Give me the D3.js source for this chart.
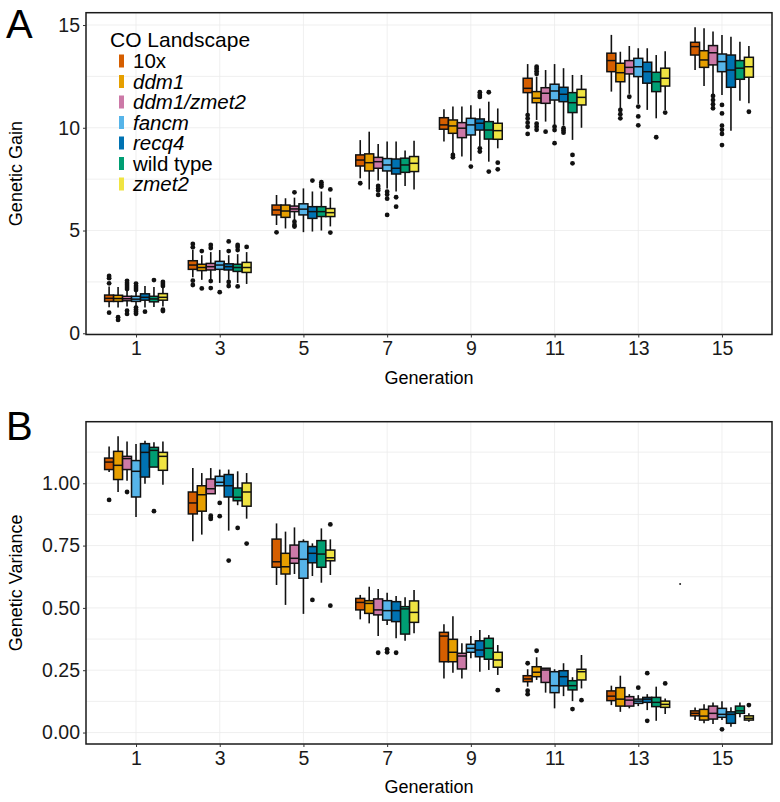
<!DOCTYPE html>
<html><head>
<meta charset="utf-8">
<script src="https://d3js.org/d3.v7.min.js"></script>
<style>
  body { margin: 0; background: #fff; }
  text { font-family: "Liberation Sans", Arial, sans-serif; }
  .grid line { stroke: #ebebeb; stroke-width: 0.8px; }
</style>
</head>
<body>
<svg id="chart" width="780" height="802"></svg>
<script>
// ---- data ----
const generations = [1, 3, 5, 7, 9, 11, 13, 15];
const groups = ["10x", "ddm1", "ddm1/zmet2", "fancm", "recq4", "wild type", "zmet2"];
const groupItalic = [false, true, true, true, true, false, true];
const groupColors = ["#D55E00", "#E69F00", "#CC79A7", "#56B4E9", "#0072B2", "#009E73", "#F0E442"];

// Genetic gain: [lower whisker, q1, median, q3, upper whisker] per generation
const gain10x   = [[1.27,1.55,1.70,1.86,2.27],[2.72,3.11,3.32,3.53,4.05],[5.27,5.76,6.00,6.24,6.73],[7.54,8.14,8.43,8.68,9.40],[9.33,9.93,10.14,10.49,10.90],[10.70,11.71,11.92,12.41,13.10],[11.76,12.73,13.27,13.63,14.52],[12.81,13.54,13.95,14.16,14.89]];
const gainDdm1  = [[1.25,1.55,1.69,1.85,2.25],[2.60,3.05,3.20,3.36,3.80],[5.10,5.64,5.95,6.24,6.57],[7.00,7.90,8.30,8.73,9.81],[8.76,9.73,10.09,10.38,11.03],[10.38,11.22,11.44,11.76,12.49],[10.95,12.24,12.68,13.14,13.70],[12.03,12.94,13.30,13.75,14.84]];
const gainDdm1Zmet2 = [[1.30,1.58,1.68,1.80,2.10],[2.60,3.08,3.24,3.40,3.95],[5.50,5.92,6.05,6.19,6.60],[7.43,8.03,8.35,8.56,9.21],[8.60,9.52,9.98,10.25,11.03],[10.30,11.19,11.68,11.95,12.81],[11.65,12.62,12.94,13.27,13.98],[11.60,13.06,13.65,14.00,14.68]];
const gainFancm = [[1.30,1.55,1.66,1.80,2.05],[2.45,3.11,3.32,3.50,4.05],[4.92,5.76,6.04,6.30,7.05],[7.05,7.90,8.19,8.50,9.33],[8.40,9.65,10.14,10.46,11.10],[10.14,11.35,11.79,12.12,13.10],[11.16,12.49,12.97,13.38,13.87],[11.60,12.73,13.22,13.59,14.52]];
const gainRecq4 = [[1.25,1.61,1.75,1.92,2.30],[2.60,3.08,3.24,3.38,3.80],[4.95,5.59,5.92,6.16,6.90],[6.90,7.75,8.03,8.48,9.33],[9.10,9.89,10.22,10.43,10.94],[10.10,11.27,11.63,11.97,12.90],[10.87,12.17,12.73,13.19,13.87],[9.86,11.97,12.81,13.54,14.43]];
const gainWild  = [[1.28,1.53,1.67,1.80,2.25],[2.45,3.01,3.20,3.36,3.85],[5.00,5.68,5.92,6.16,6.90],[7.17,7.83,8.19,8.52,8.89],[8.35,9.45,9.89,10.30,11.27],[9.41,10.74,11.22,11.71,12.57],[10.46,11.76,12.24,12.70,13.54],[11.32,12.36,12.90,13.27,14.19]];
const gainZmet2 = [[1.30,1.61,1.75,1.93,2.20],[2.40,2.96,3.20,3.45,3.95],[5.20,5.68,5.87,6.07,6.60],[7.00,7.87,8.27,8.60,9.37],[9.00,9.44,9.86,10.22,10.94],[10.00,11.11,11.48,11.87,12.57],[10.87,12.03,12.41,12.90,13.73],[11.19,12.46,12.97,13.43,13.98]];

const gain10xOut   = [[2.43,2.68,2.79,1.00],[4.18,4.35,2.56,2.35],[4.91],[7.30],[],[10.62,10.45,10.25,10.05,9.70],[],[]];
const gainDdm1Out  = [[0.78,0.65],[4.00,2.18],[],[],[8.68,8.56],[12.62,12.75,12.87,12.97,10.20,10.05,9.90],[10.87,10.66,10.46],[]];
const gainDdm1Zmet2Out = [[2.15,2.25,2.35,2.45,2.55,1.10,0.94],[4.15,4.30,2.54,2.20],[6.86,5.43,5.27,5.19],[7.17,7.05,6.95,6.73],[],[9.81],[11.51],[11.55,11.35,11.15,10.95]];
const gainFancmOut = [[2.10,2.20,2.30,2.42,1.25,1.15,1.05,0.95],[2.00],[],[6.89,6.75,6.55,5.76],[8.11],[10.05,9.89,9.25],[11.03,10.55,10.12],[11.11,10.70,10.10,9.90,9.70,9.16]];
const gainRecq4Out = [[1.05],[4.00,4.47,2.50,2.30],[7.43],[6.62,6.16],[11.50,11.60,11.73,9.00,8.84],[9.98,9.87,9.76],[],[]];
const gainWildOut  = [[2.59],[4.05,4.20,4.30,2.28],[7.14,7.24,7.35],[],[11.73,7.87],[8.68,8.27],[9.54],[]];
const gainZmet2Out = [[2.30,2.40,2.50,1.15,1.08],[4.20],[7.00,4.90],[],[8.30,7.98],[],[10.74],[10.78]];

// Genetic variance
const var10x   = [[1.045,1.055,1.085,1.101,1.148],[0.767,0.877,0.921,0.965,1.061],[0.592,0.663,0.685,0.776,0.839],[0.454,0.492,0.522,0.538,0.552],[0.217,0.284,0.387,0.402,0.434],[0.184,0.204,0.215,0.228,0.254],[0.110,0.128,0.146,0.167,0.188],[0.050,0.067,0.077,0.087,0.100]];
const varDdm1  = [[0.965,1.015,1.072,1.128,1.189],[0.794,0.888,0.954,0.990,1.041],[0.512,0.636,0.665,0.719,0.806],[0.438,0.478,0.518,0.529,0.585],[0.240,0.284,0.322,0.374,0.467],[0.211,0.224,0.242,0.264,0.302],[0.083,0.106,0.134,0.180,0.228],[0.037,0.050,0.066,0.093,0.113]];
const varDdm1Zmet2 = [[1.010,1.055,1.099,1.108,1.168],[0.958,0.958,0.978,1.017,1.061],[0.636,0.679,0.699,0.752,0.823],[0.387,0.472,0.492,0.536,0.576],[0.217,0.255,0.307,0.318,0.358],[0.160,0.201,0.251,0.258,0.258],[0.097,0.106,0.130,0.144,0.154],[0.034,0.054,0.077,0.106,0.120]];
const varFancm = [[0.865,0.945,1.048,1.091,1.158],[0.990,0.990,1.004,1.028,1.055],[0.476,0.619,0.695,0.766,0.775],[0.431,0.451,0.489,0.529,0.561],[0.298,0.322,0.338,0.354,0.387],[0.097,0.160,0.188,0.244,0.254],[0.106,0.117,0.126,0.134,0.150],[0.050,0.061,0.073,0.097,0.126]];
const varRecq4 = [[0.998,1.025,1.124,1.159,1.171],[0.810,0.945,0.990,1.035,1.055],[0.628,0.681,0.719,0.746,0.759],[0.378,0.445,0.489,0.525,0.548],[0.244,0.304,0.331,0.368,0.411],[0.146,0.187,0.224,0.248,0.278],[0.090,0.121,0.134,0.141,0.154],[0.023,0.037,0.073,0.083,0.101]];
const varWild  = [[1.065,1.065,1.132,1.144,1.165],[0.912,0.930,0.944,0.981,1.048],[0.601,0.663,0.716,0.770,0.819],[0.368,0.395,0.496,0.505,0.543],[0.251,0.294,0.338,0.378,0.391],[0.126,0.171,0.188,0.208,0.222],[0.047,0.104,0.121,0.141,0.184],[0.061,0.077,0.087,0.106,0.120]];
const varZmet2 = [[0.994,1.052,1.108,1.124,1.168],[0.858,0.908,0.965,1.001,1.041],[0.632,0.689,0.701,0.732,0.775],[0.398,0.442,0.482,0.528,0.572],[0.231,0.262,0.291,0.322,0.351],[0.177,0.211,0.244,0.254,0.311],[0.074,0.101,0.113,0.126,0.137],[0.043,0.050,0.057,0.067,0.077]];

const var10xOut   = [[0.933],[],[],[],[],[0.278,0.168,0.154],[],[]];
const varDdm1Out  = [[],[],[],[],[],[0.328],[],[]];
const varDdm1Zmet2Out = [[0.965],[0.870,0.862,0.857],[],[0.320],[],[],[],[]];
const varFancmOut = [[],[0.921,0.868],[],[0.334,0.322],[],[],[0.180],[0.013]];
const varRecq4Out = [[],[0.690],[0.532],[0.320],[],[],[0.238,0.047],[]];
const varWildOut  = [[0.888],[0.821],[],[],[],[0.094],[],[]];
const varZmet2Out = [[],[0.758],[0.835,0.509],[],[0.170],[0.130],[0.197],[0.110]];
const varStray = [[14, 0.596]];

const gainTicks = [0, 5, 10, 15];
const varTicks = [0, 0.25, 0.5, 0.75, 1.0];

// ---- layout ----
const svg = d3.select("#chart");
const left = 86, right = 772;
const x = d3.scaleLinear().domain([-0.195, 16.195]).range([left, right]);
const dodge = 1.5 / groups.length;  // in generation units

const fmtVar = d3.format(".2f");

function drawPanel(cfg) {
  const y = cfg.y;
  const top = y.range()[1], bottom = y.range()[0];
  const g = svg.append("g");

  // grid
  const grid = g.append("g").attr("class", "grid");
  grid.selectAll("line.h").data(cfg.gridY).join("line")
      .attr("x1", left).attr("x2", right)
      .attr("y1", d => y(d)).attr("y2", d => y(d));
  grid.selectAll("line.v").data(generations).join("line")
      .attr("x1", d => x(d)).attr("x2", d => x(d))
      .attr("y1", top).attr("y2", bottom);

  // boxes
  const boxW = x(dodge) - x(0);
  const stats = cfg.stats, outs = cfg.outs;
  groups.forEach((grp, k) => {
    const layer = g.append("g");
    const rows = generations.map((gen, i) => ({gen: gen, s: stats[k][i], o: outs[k][i],
                                               cx: x(gen + (k - 3) * dodge)}));
    layer.selectAll("line.w").data(rows).join("line")
        .attr("x1", d => d.cx).attr("x2", d => d.cx)
        .attr("y1", d => y(d.s[0])).attr("y2", d => y(d.s[4]))
        .attr("stroke", "#111").attr("stroke-width", 1.6);
    layer.selectAll("rect").data(rows).join("rect")
        .attr("x", d => d.cx - boxW / 2).attr("width", boxW)
        .attr("y", d => y(d.s[3])).attr("height", d => Math.max(1, y(d.s[1]) - y(d.s[3])))
        .attr("fill", groupColors[k]).attr("stroke", "#111").attr("stroke-width", 1.5);
    layer.selectAll("line.m").data(rows).join("line")
        .attr("x1", d => d.cx - boxW / 2).attr("x2", d => d.cx + boxW / 2)
        .attr("y1", d => y(d.s[2])).attr("y2", d => y(d.s[2]))
        .attr("stroke", "#111").attr("stroke-width", 1.5);
    const pts = rows.flatMap(d => d.o.map(v => ({cx: d.cx, v: v})));
    layer.selectAll("circle").data(pts).join("circle")
        .attr("cx", d => d.cx).attr("cy", d => y(d.v)).attr("r", 2.4)
        .attr("fill", "#111");
  });

  if (cfg.stray) {
    g.selectAll("circle.stray").data(cfg.stray).join("circle")
        .attr("cx", d => x(d[0])).attr("cy", d => y(d[1])).attr("r", 1)
        .attr("fill", "#222");
  }

  // frame
  g.append("rect").attr("x", left).attr("y", top)
      .attr("width", right - left).attr("height", bottom - top)
      .attr("fill", "none").attr("stroke", "#1a1a1a").attr("stroke-width", 1.5);

  // y axis
  const ya = g.append("g").attr("transform", `translate(${left},0)`)
      .call(d3.axisLeft(y).tickValues(cfg.ticks).tickFormat(cfg.fmt).tickSize(3).tickPadding(3));
  ya.select(".domain").remove();
  ya.selectAll(".tick line").attr("stroke", "#333");
  ya.selectAll(".tick text").attr("font-size", 19.5).attr("fill", "#1a1a1a")
      .attr("font-family", "'Liberation Sans', Arial, sans-serif");

  // x axis
  const xa = g.append("g").attr("transform", `translate(0,${bottom})`)
      .call(d3.axisBottom(x).tickValues(generations).tickSize(3).tickPadding(4));
  xa.select(".domain").remove();
  xa.selectAll(".tick line").attr("stroke", "#333");
  xa.selectAll(".tick text").attr("font-size", 19.5).attr("fill", "#1a1a1a")
      .attr("font-family", "'Liberation Sans', Arial, sans-serif");

  g.append("text").attr("x", (left + right) / 2).attr("y", bottom + 49)
      .attr("text-anchor", "middle").attr("font-size", 18).text("Generation");
  g.append("text").attr("transform", `translate(22,${(top + bottom) / 2}) rotate(-90)`)
      .attr("text-anchor", "middle").attr("font-size", 18).text(cfg.yTitle);
  g.append("text").attr("x", 6).attr("y", cfg.letterY)
      .attr("font-size", 40).text(cfg.letter);
}

const yA = d3.scaleLinear().domain([-0.06, 15.6]).range([334.5, 12.7]);
drawPanel({
  y: yA, ticks: gainTicks, fmt: d3.format("d"), gridY: d3.range(0, 15.01, 2.5),
  stats: [gain10x, gainDdm1, gainDdm1Zmet2, gainFancm, gainRecq4, gainWild, gainZmet2],
  outs: [gain10xOut, gainDdm1Out, gainDdm1Zmet2Out, gainFancmOut, gainRecq4Out, gainWildOut, gainZmet2Out],
  yTitle: "Genetic Gain", letter: "A", letterY: 38
});

const yB = d3.scaleLinear().domain([-0.046, 1.247]).range([744, 421.7]);
drawPanel({
  y: yB, ticks: varTicks, fmt: fmtVar, gridY: d3.range(0, 1.2, 0.125),
  stats: [var10x, varDdm1, varDdm1Zmet2, varFancm, varRecq4, varWild, varZmet2],
  outs: [var10xOut, varDdm1Out, varDdm1Zmet2Out, varFancmOut, varRecq4Out, varWildOut, varZmet2Out],
  stray: varStray,
  yTitle: "Genetic Variance", letter: "B", letterY: 440
});

// legend
const legend = svg.append("g");
legend.append("text").attr("x", 110).attr("y", 47).attr("font-size", 21).text("CO Landscape");
const rowY = d3.scaleLinear().domain([0, groups.length - 1]).range([61, 184]);
legend.selectAll("rect").data(groups).join("rect")
    .attr("x", 119).attr("width", 5)
    .attr("y", (d, i) => rowY(i) - 6.5).attr("height", 13)
    .attr("fill", (d, i) => groupColors[i]);
legend.selectAll("text.item").data(groups).join("text")
    .attr("class", "item")
    .attr("x", 133).attr("y", (d, i) => rowY(i) + 7)
    .attr("font-size", 20.5)
    .attr("font-style", (d, i) => groupItalic[i] ? "italic" : "normal")
    .text(d => d);
</script>
</body>
</html>
